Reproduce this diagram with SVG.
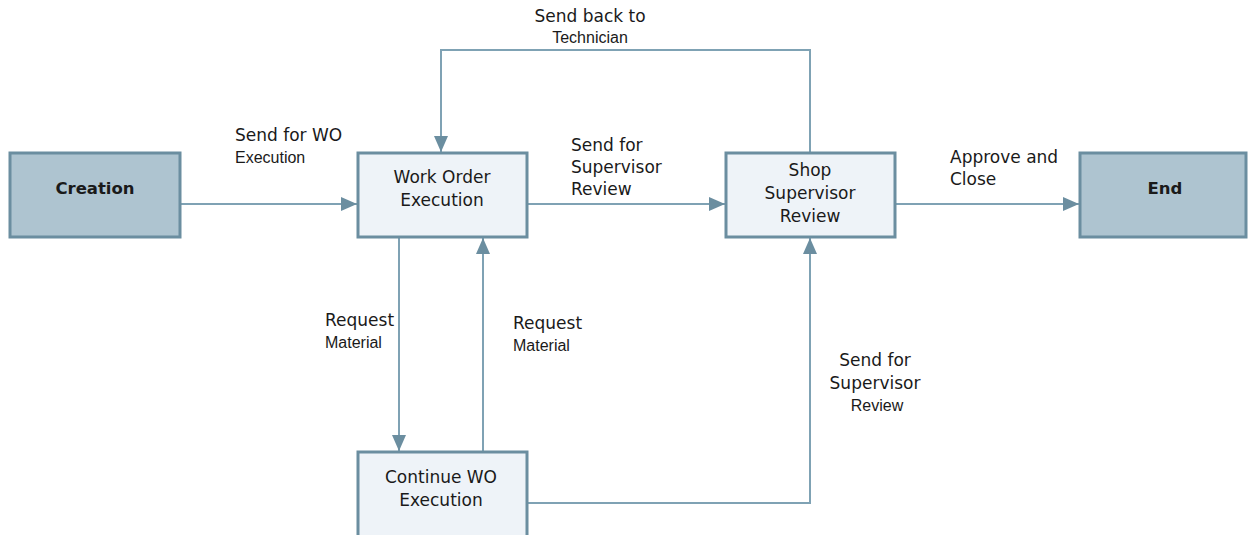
<svg xmlns="http://www.w3.org/2000/svg" width="1248" height="535" viewBox="0 0 1248 535">
<style>
.box{fill:#eef3f8;stroke:#6b8ea0;stroke-width:3}
.term{fill:#aec4d0;stroke:#6b8ea0;stroke-width:3}
.nt{font-family:"DejaVu Sans",Verdana,sans-serif;font-size:17px;fill:#1a1a1a;text-anchor:middle}
.bt{font-family:"DejaVu Sans",Verdana,sans-serif;font-size:16.5px;font-weight:bold;fill:#1a1a1a;text-anchor:middle}
.lv{font-family:"DejaVu Sans",Verdana,sans-serif;font-size:17px;fill:#1a1a1a}
.la{font-family:"Liberation Sans",Arial,sans-serif;font-size:16px;fill:#1a1a1a}
.c{fill:none;stroke:#7fa2b4;stroke-width:2}
</style>
<defs>
<marker id="ah" viewBox="0 0 16 14" refX="16" refY="7" markerWidth="16" markerHeight="14" markerUnits="userSpaceOnUse" orient="auto">
<path d="M0,0 L16,7 L0,14 Z" fill="#6b8ea0"/>
</marker>
</defs>
<g id="connectors">
<path class="c" d="M181,204 L357,204" marker-end="url(#ah)"/>
<path class="c" d="M528,204 L725,204" marker-end="url(#ah)"/>
<path class="c" d="M896,204 L1079,204" marker-end="url(#ah)"/>
<path class="c" d="M810,152 L810,50 L441,50 L441,152" marker-end="url(#ah)"/>
<path class="c" d="M399,238 L399,451" marker-end="url(#ah)"/>
<path class="c" d="M483,451 L483,238" marker-end="url(#ah)"/>
<path class="c" d="M528,503 L810,503 L810,238" marker-end="url(#ah)"/>
<text class="lv" x="590" y="22" text-anchor="middle">Send back to</text>
<text class="la" x="590" y="43" text-anchor="middle">Technician</text>
<text class="lv" x="235" y="141">Send for WO</text>
<text class="la" x="235" y="163">Execution</text>
<text class="lv" x="571" y="151">Send for</text>
<text class="lv" x="571" y="173">Supervisor</text>
<text class="lv" x="571" y="195">Review</text>
<text class="lv" x="950" y="163">Approve and</text>
<text class="lv" x="950" y="185">Close</text>
<text class="lv" x="325" y="326">Request</text>
<text class="la" x="325" y="348">Material</text>
<text class="lv" x="513" y="329">Request</text>
<text class="la" x="513" y="351">Material</text>
<text class="lv" x="875" y="366" text-anchor="middle">Send for</text>
<text class="lv" x="875" y="389" text-anchor="middle">Supervisor</text>
<text class="la" x="877" y="411" text-anchor="middle">Review</text>
</g>
<g id="creation">
<rect class="term" x="10" y="153" width="170" height="84"/>
<text class="bt" x="95" y="194">Creation</text>
</g>
<g id="wo-execution">
<rect class="box" x="358" y="153" width="169" height="84"/>
<text class="nt" x="442" y="183">Work Order</text>
<text class="nt" x="442" y="206">Execution</text>
</g>
<g id="shop-review">
<rect class="box" x="726" y="153" width="169" height="84"/>
<text class="nt" x="810" y="176">Shop</text>
<text class="nt" x="810" y="199">Supervisor</text>
<text class="nt" x="810" y="222">Review</text>
</g>
<g id="end">
<rect class="term" x="1080" y="153" width="166" height="84"/>
<text class="bt" x="1165" y="194">End</text>
</g>
<g id="continue-wo">
<rect class="box" x="358" y="452" width="169" height="100"/>
<text class="nt" x="441" y="483">Continue WO</text>
<text class="nt" x="441" y="506">Execution</text>
</g>
</svg>
